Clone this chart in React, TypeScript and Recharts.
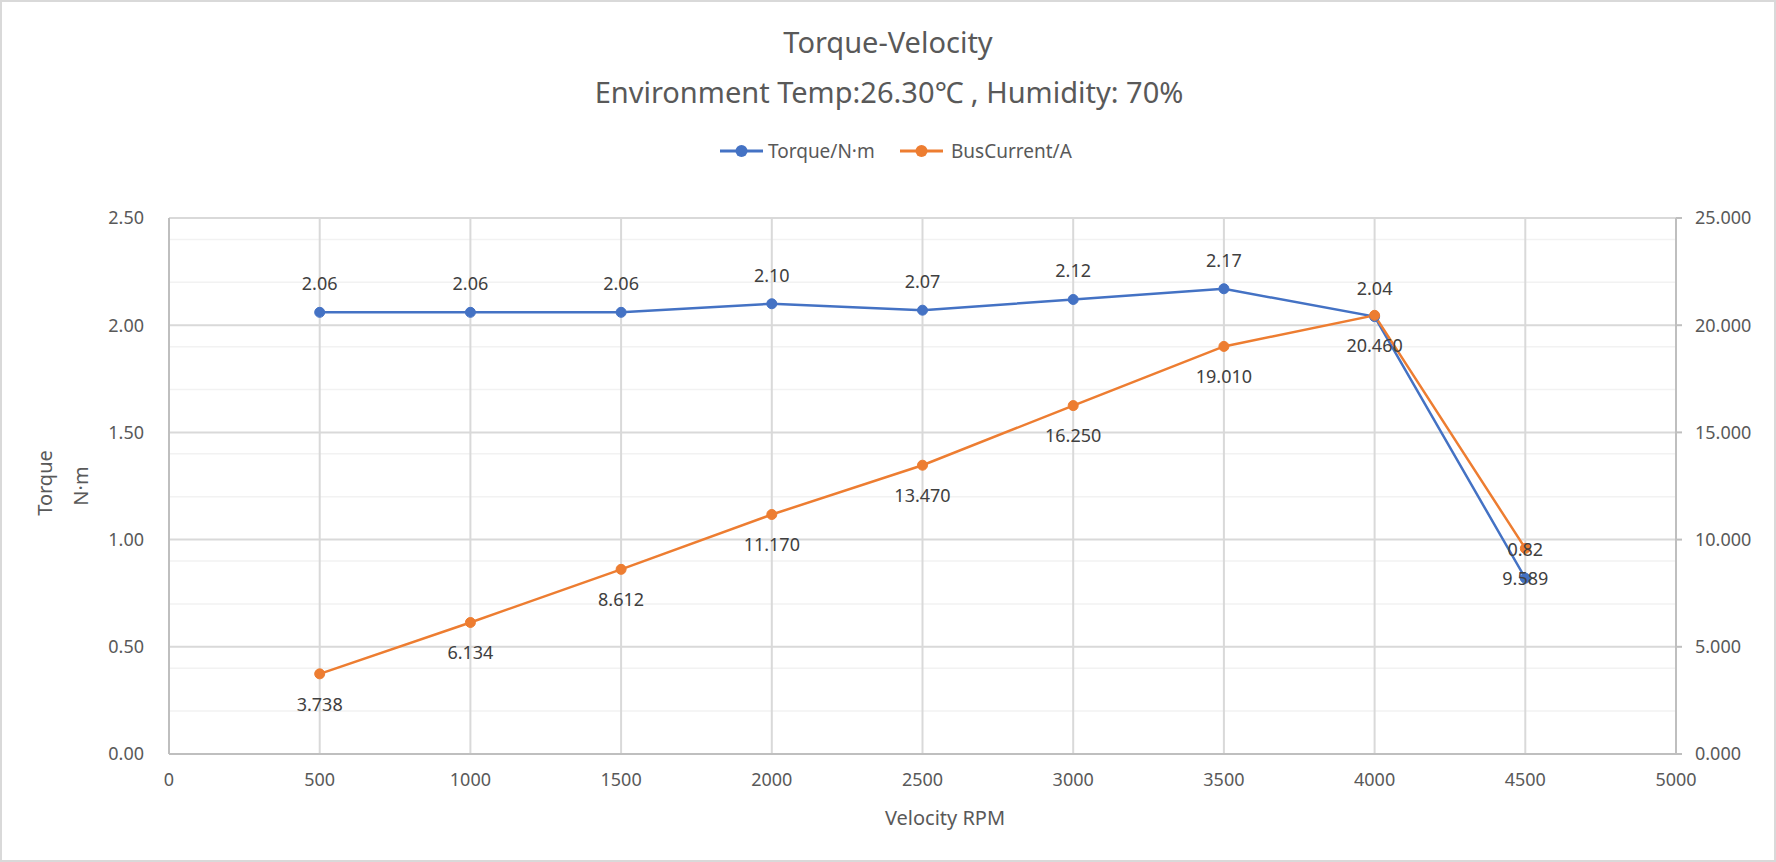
import { CartesianGrid, LabelList, Line, LineChart, XAxis, YAxis } from 'recharts';

const rpm = [500, 1000, 1500, 2000, 2500, 3000, 3500, 4000, 4500];
const torque = [2.06, 2.06, 2.06, 2.1, 2.07, 2.12, 2.17, 2.04, 0.82];
const busCurrent = [3.738, 6.134, 8.612, 11.17, 13.47, 16.25, 19.01, 20.46, 9.589];

const xTicks = [0, 500, 1000, 1500, 2000, 2500, 3000, 3500, 4000, 4500, 5000];
const xGridValues = [500, 1000, 1500, 2000, 2500, 3000, 3500, 4000, 4500];
const torqueTicks = [0, 0.5, 1, 1.5, 2, 2.5];
const torqueMinor = [0.1, 0.2, 0.3, 0.4, 0.6, 0.7, 0.8, 0.9, 1.1, 1.2, 1.3, 1.4, 1.6, 1.7, 1.8, 1.9, 2.1, 2.2, 2.3, 2.4];
const currentTicks = [0, 5, 10, 15, 20, 25];

const SERIES_TORQUE = 'Torque/N·m';
const SERIES_CURRENT = 'BusCurrent/A';
const BLUE = '#4472c4';
const ORANGE = '#ed7d31';
const FONT = '"Noto Sans", "Noto Sans CJK SC", sans-serif';

const data = rpm.map((r, i) => ({ rpm: r, torque: torque[i], current: busCurrent[i] }));

const W = 1776;
const H = 862;

export default function App() {
  const tick = { fontSize: 18, fill: '#595959', fontFamily: FONT };
  const label = { fontSize: 18, fill: '#404040', fontFamily: FONT };
  return (
    <div style={{ position: 'absolute', left: 0, top: 0, width: W, height: H, background: '#fff' }}>
      <LineChart width={W} height={H} data={data} margin={{ top: 218, right: 40, bottom: 78, left: 109 }}>
        <CartesianGrid yAxisId="left" horizontalValues={torqueMinor} vertical={false} stroke="#f2f2f2" strokeWidth={1.5} />
        <CartesianGrid yAxisId="left" verticalValues={xGridValues} stroke="#d9d9d9" strokeWidth={2} />
        <XAxis
          dataKey="rpm"
          type="number"
          domain={[0, 5000]}
          ticks={xTicks}
          height={30}
          axisLine={{ stroke: '#bfbfbf', strokeWidth: 2 }}
          tickLine={false}
          tickSize={0}
          tickMargin={19}
          tick={tick}
        />
        <YAxis
          yAxisId="left"
          domain={[0, 2.5]}
          ticks={torqueTicks}
          width={60}
          axisLine={{ stroke: '#bfbfbf', strokeWidth: 2 }}
          tickLine={false}
          tickSize={0}
          tickMargin={25}
          tick={tick}
          tickFormatter={(v: number) => v.toFixed(2)}
        />
        <YAxis
          yAxisId="right"
          orientation="right"
          domain={[0, 25]}
          ticks={currentTicks}
          width={60}
          axisLine={{ stroke: '#bfbfbf', strokeWidth: 2 }}
          tickLine={{ stroke: '#bfbfbf', strokeWidth: 2 }}
          tickSize={6}
          tickMargin={13}
          tick={tick}
          tickFormatter={(v: number) => v.toFixed(3)}
        />
        <Line
          yAxisId="left"
          dataKey="torque"
          name={SERIES_TORQUE}
          type="linear"
          stroke={BLUE}
          strokeWidth={2.5}
          dot={{ r: 5, fill: BLUE, stroke: BLUE, strokeWidth: 1 }}
          isAnimationActive={false}
        />
        <Line
          yAxisId="right"
          dataKey="current"
          name={SERIES_CURRENT}
          type="linear"
          stroke={ORANGE}
          strokeWidth={2.5}
          dot={{ r: 5, fill: ORANGE, stroke: ORANGE, strokeWidth: 1 }}
          isAnimationActive={false}
        />
        {/* label-only copies so the numbers sit above both lines */}
        <Line yAxisId="left" dataKey="torque" stroke="none" dot={false} legendType="none" isAnimationActive={false}>
          <LabelList dataKey="torque" position="top" offset={22} style={label} formatter={(v: number) => v.toFixed(2)} />
        </Line>
        <Line yAxisId="right" dataKey="current" stroke="none" dot={false} legendType="none" isAnimationActive={false}>
          <LabelList dataKey="current" position="bottom" offset={24} style={label} formatter={(v: number) => v.toFixed(3)} />
        </Line>
      </LineChart>

      <svg width={W} height={H} style={{ position: 'absolute', left: 0, top: 0, pointerEvents: 'none' }}>
        <rect x={1} y={1} width={W - 2} height={H - 2} fill="none" stroke="#d9d9d9" strokeWidth={2} />
        <g fontFamily={FONT} fill="#595959">
          <text x={888} y={53} fontSize={29} textAnchor="middle">Torque-Velocity</text>
          <text x={889} y={103} fontSize={29} textAnchor="middle">Environment Temp:26.30℃ , Humidity: 70%</text>
          <text x={945} y={825} fontSize={20} textAnchor="middle">Velocity RPM</text>
          <text transform="translate(52,483) rotate(-90)" fontSize={20} textAnchor="middle">Torque</text>
          <text transform="translate(88,486) rotate(-90)" fontSize={20} textAnchor="middle">N·m</text>
        </g>
        <g fontFamily={FONT} fontSize={19} fill="#595959">
          <line x1={720} y1={151} x2={763} y2={151} stroke={BLUE} strokeWidth={3} />
          <circle cx={741.5} cy={151} r={6} fill={BLUE} />
          <text x={768} y={158}>{SERIES_TORQUE}</text>
          <line x1={900} y1={151} x2={943} y2={151} stroke={ORANGE} strokeWidth={3} />
          <circle cx={921.5} cy={151} r={6} fill={ORANGE} />
          <text x={951} y={158}>{SERIES_CURRENT}</text>
        </g>
      </svg>
    </div>
  );
}
